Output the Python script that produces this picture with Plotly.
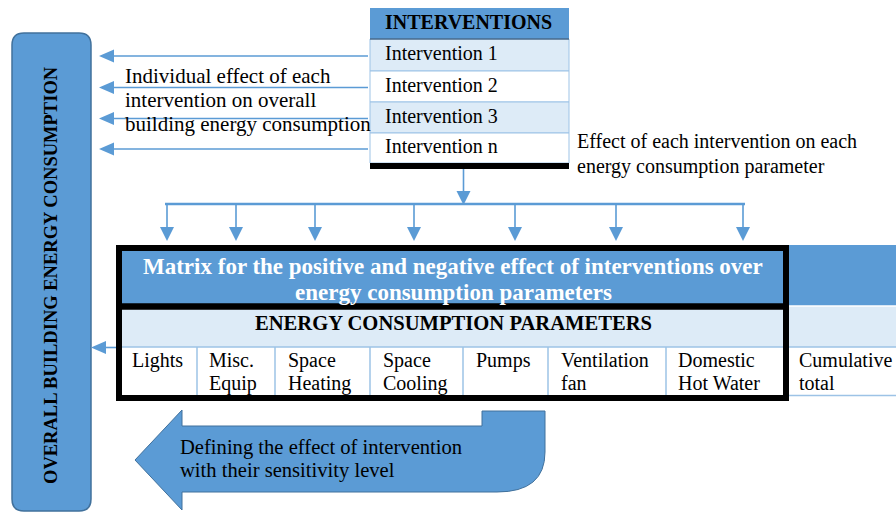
import plotly.graph_objects as go

# ---- content ----
interventions_title = "INTERVENTIONS"
interventions = ["Intervention 1", "Intervention 2", "Intervention 3", "Intervention n"]
left_label = "OVERALL BUILDING ENERGY CONSUMPTION"
left_note = ["Individual effect of each", "intervention on overall", "building energy consumption"]
right_note = ["Effect of each intervention on each", "energy consumption parameter"]
matrix_title = ["Matrix for the positive and negative effect of interventions over",
                "energy consumption parameters"]
params_title = "ENERGY CONSUMPTION PARAMETERS"
param_line1 = ["Lights", "Misc.", "Space", "Space", "Pumps", "Ventilation", "Domestic", "Cumulative"]
param_line2 = ["", "Equip", "Heating", "Cooling", "", "fan", "Hot Water", "total"]
bottom_note = ["Defining the effect of intervention", "with their sensitivity level"]

# ---- layout geometry (pixels) ----
BLUE = "#5B9BD5"
DARKBLUE = "#41719C"
LIGHT = "#DDEBF7"
GRID = "#9DC3E6"
FONT = "Liberation Serif, Times New Roman, serif"

col_edges = [116, 197, 275, 370, 463, 548, 666, 789, 896]
col_text_x = [132, 209, 288, 383, 476, 561, 678, 799]
down_arrow_x = [167, 236, 315, 414, 515, 616, 743]
row_edges = [39, 71, 102, 133, 163]

shapes = []
ann = []

def rect(x0, y0, x1, y1, fill, lc=None, lw=0):
    shapes.append(dict(type="rect", xref="x", yref="y", x0=x0, y0=y0, x1=x1, y1=y1,
                       fillcolor=fill, line=dict(color=lc or fill, width=lw), layer="above"))

def seg(x0, y0, x1, y1, color, w):
    shapes.append(dict(type="line", xref="x", yref="y", x0=x0, y0=y0, x1=x1, y1=y1,
                       line=dict(color=color, width=w), layer="above"))

def path(d, fill, lc=None, lw=0):
    shapes.append(dict(type="path", xref="x", yref="y", path=d, fillcolor=fill,
                       line=dict(color=lc or fill, width=lw), layer="above"))

def text(x, y, s, size=20, color="black", bold=False, xanchor="left", angle=0):
    if bold:
        s = "<b>" + s + "</b>"
    ann.append(dict(x=x, y=y, xref="x", yref="y", text=s, showarrow=False,
                    xanchor=xanchor, yanchor="middle", textangle=angle,
                    font=dict(family=FONT, size=size, color=color)))

# ---- left rounded box ----
r = 12
x0, x1, y0, y1 = 12, 91, 33, 511
path(f"M {x0+r},{y0} L {x1-r},{y0} Q {x1},{y0} {x1},{y0+r} L {x1},{y1-r} Q {x1},{y1} {x1-r},{y1} "
     f"L {x0+r},{y1} Q {x0},{y1} {x0},{y1-r} L {x0},{y0+r} Q {x0},{y0} {x0+r},{y0} Z",
     BLUE, DARKBLUE, 1.5)
text(51, 275, left_label, size=18.5, bold=True, xanchor="center", angle=-90)

# ---- interventions table ----
tx0, tx1 = 370, 569
rect(tx0, 8, tx1, row_edges[0], BLUE)
for i, name in enumerate(interventions):
    fill = LIGHT if i % 2 == 0 else "white"
    rect(tx0, row_edges[i], tx1, row_edges[i + 1], fill, GRID, 1)
    text(tx0 + 13, (row_edges[i] + row_edges[i + 1]) / 2 - 2, name)
seg(tx0, row_edges[0], tx1, row_edges[0], "#1F3F5F", 1.2)
rect(tx0, 163, tx1, 169, "black")
text(tx0 + 13, 22, interventions_title, bold=True)

# arrows from interventions to overall box
for i in range(len(interventions)):
    yc = (row_edges[i] + row_edges[i + 1]) / 2 + 1
    seg(368, yc, 110, yc, BLUE, 1.6)
    path(f"M 99,{yc} L 114,{yc-6.5} L 114,{yc+6.5} Z", BLUE)

for i, s in enumerate(left_note):
    text(123, 76 + 24 * i, s, size=21)
for i, s in enumerate(right_note):
    text(575, 141 + 25 * i, s)

# ---- distribution arrows ----
cx = 463.5
seg(cx, 169, cx, 193, BLUE, 1.6)
path(f"M {cx},205 L {cx-7},191 L {cx+7},191 Z", BLUE)
seg(down_arrow_x[0] - 2, 204, down_arrow_x[-1] + 2, 204, BLUE, 2.5)
for x in down_arrow_x:
    seg(x, 204, x, 228, BLUE, 1.6)
    path(f"M {x},241 L {x-7},227 L {x+7},227 Z", BLUE)

# ---- matrix ----
rect(116, 245, 896, 306, BLUE)
rect(116, 306, 896, 347, LIGHT)
seg(789, 306, 896, 306, "white", 1.5)
seg(116, 347, 896, 347, GRID, 1.5)
seg(789, 395.5, 896, 395.5, GRID, 1.5)
for x in col_edges[1:7]:
    seg(x, 347, x, 396, GRID, 1.5)
shapes.append(dict(type="rect", xref="x", yref="y", x0=119, y0=248, x1=786, y1=398,
                   line=dict(color="black", width=6), fillcolor="rgba(0,0,0,0)", layer="above"))
seg(116, 306.5, 789, 306.5, "black", 6.5)

text(453, 266, matrix_title[0], size=23, color="white", bold=True, xanchor="center")
text(453, 292, matrix_title[1], size=23, color="white", bold=True, xanchor="center")
text(453, 323, params_title, size=20.6, bold=True, xanchor="center")
for i in range(len(param_line1)):
    text(col_text_x[i] - 2, 360, param_line1[i])
    if param_line2[i]:
        text(col_text_x[i] - 2, 383, param_line2[i])

# arrow from matrix to overall box
seg(116, 347.5, 103, 347.5, BLUE, 1.6)
path("M 91,347.5 L 106,341 L 106,354 Z", BLUE)

# ---- big curved arrow ----
path("M 135,460 L 182,410 L 182,426 L 482,426 L 482,411 L 545,411 L 545,452 "
     "Q 545,492 497,492 L 182,492 L 182,510 Z", BLUE, DARKBLUE, 1)
for i, s in enumerate(bottom_note):
    text(178, 447 + 23 * i, s, size=20.6)

fig = go.Figure()
fig.add_trace(go.Scatter(x=[0, 896], y=[0, 512], mode="markers",
                         marker=dict(opacity=0), hoverinfo="skip", showlegend=False))
fig.update_layout(
    width=896, height=512, margin=dict(l=0, r=0, t=0, b=0),
    paper_bgcolor="white", plot_bgcolor="white",
    xaxis=dict(range=[0, 896], visible=False, fixedrange=True),
    yaxis=dict(range=[512, 0], visible=False, fixedrange=True),
    shapes=shapes, annotations=ann, showlegend=False,
)
fig.write_html("out.html", config={"displayModeBar": False},
               post_script="document.body.style.margin='0';document.body.style.overflow='hidden';")
